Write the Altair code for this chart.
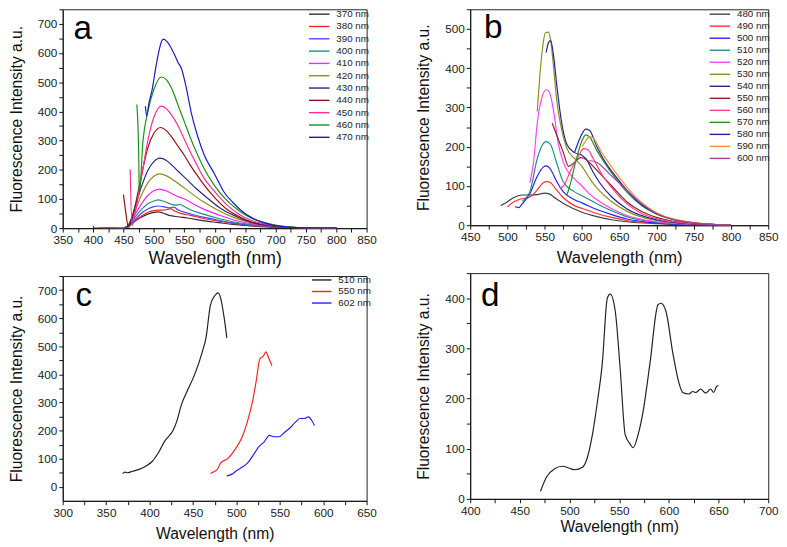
import altair as alt
import pandas as pd

FONT = "Liberation Sans"

# ---------------- Panel a : excitation 370-470 nm ----------------
A_NAMES = ["370 nm", "380 nm", "390 nm", "400 nm", "410 nm", "420 nm",
           "430 nm", "440 nm", "450 nm", "460 nm", "470 nm"]
A_COLORS = ["#303030", "#FF2020", "#4848FF", "#208C8C", "#FF20FF", "#8C8C20",
            "#262680", "#8B1010", "#FF3090", "#189018", "#1818C8"]
A370 = [(400, 8), (402, 0), (445, 0), (452, 2), (460, 10), (470, 25), (480, 38), (490, 48), (500, 54),
        (507, 56), (515, 52), (525, 44), (540, 39), (555, 35), (580, 26), (607, 19), (630, 13), (660, 8),
        (700, 3), (750, 1), (800, 0)]
A380 = [(410, 3), (412, 0), (448, 0), (455, 3), (462, 12), (470, 28), (480, 42), (490, 54), (500, 60),
        (508, 62), (515, 62), (522, 64), (527, 67), (533, 60), (545, 50), (560, 44), (580, 34), (607, 24),
        (630, 16), (660, 9), (700, 4), (750, 1), (800, 0)]
A390 = [(420, 2), (422, 0), (448, 0), (455, 3), (462, 14), (470, 32), (480, 52), (490, 66), (500, 74),
        (506, 76), (515, 74), (525, 70), (533, 72), (540, 62), (550, 55), (565, 46), (585, 36), (607, 27),
        (630, 18), (660, 10), (700, 4), (750, 1), (800, 0)]
A400 = [(430, 1), (448, 0), (455, 3), (462, 16), (470, 40), (480, 65), (490, 84), (500, 93), (507, 97),
        (515, 93), (525, 85), (535, 79), (543, 81), (550, 74), (560, 63), (580, 49), (607, 33), (630, 22),
        (660, 12), (700, 5), (750, 1), (800, 0)]
A410 = [(440, 1), (450, 1), (455, 4), (462, 20), (470, 50), (480, 85), (490, 112), (500, 128), (509, 134),
        (520, 128), (530, 118), (540, 108), (550, 100), (560, 89), (580, 67), (607, 45), (630, 29),
        (660, 15), (700, 6), (750, 1), (800, 0)]
A420 = [(450, 1), (455, 4), (462, 25), (470, 65), (480, 115), (490, 155), (500, 178), (510, 186),
        (520, 180), (530, 168), (540, 153), (550, 138), (560, 122), (580, 92), (607, 60), (630, 38),
        (660, 19), (700, 7), (750, 1), (800, 0)]
A430 = [(452, 2), (456, 5), (462, 28), (470, 80), (480, 145), (490, 198), (500, 228), (510, 240),
        (520, 233), (530, 215), (540, 195), (554, 167), (570, 135), (590, 100), (607, 72), (630, 45),
        (660, 20), (700, 7), (750, 1), (800, 0)]
A440 = [(450, 115), (454, 50), (458, 3), (465, 40), (470, 85), (480, 185), (490, 275), (500, 325),
        (511, 345), (520, 335), (530, 310), (540, 280), (550, 250), (560, 215), (570, 185), (580, 155),
        (600, 105), (620, 65), (640, 40), (660, 22), (690, 9), (720, 3), (760, 0), (800, 0)]
A450 = [(461, 202), (464, 9), (470, 60), (480, 180), (490, 300), (500, 380), (512, 418), (520, 410),
        (530, 385), (540, 350), (550, 305), (560, 260), (570, 220), (580, 180), (600, 125), (620, 80),
        (640, 48), (660, 27), (690, 11), (720, 4), (760, 0), (800, 0)]
A460 = [(472, 424), (475, 250), (476, 114), (482, 298), (490, 400), (500, 475), (512, 518), (520, 510),
        (530, 475), (540, 420), (550, 365), (560, 310), (570, 260), (580, 215), (600, 145), (620, 95),
        (640, 60), (660, 35), (690, 15), (720, 5), (760, 1), (800, 0)]
A470 = [(486, 418), (488, 385), (492, 430), (497, 473), (503, 549), (508, 604), (513, 642), (516, 648),
        (522, 638), (529, 615), (535, 590), (540, 566), (545, 549), (553, 484), (561, 400), (572, 315),
        (583, 250), (600, 185), (615, 125), (630, 88), (645, 58), (660, 37), (680, 19), (700, 9),
        (720, 4), (750, 1), (800, 0)]
A_SERIES = [A370, A380, A390, A400, A410, A420, A430, A440, A450, A460, A470]

# ---------------- Panel b : excitation 480-600 nm ----------------
B_NAMES = ["480 nm", "490 nm", "500 nm", "510 nm", "520 nm", "530 nm", "540 nm",
           "550 nm", "560 nm", "570 nm", "580 nm", "590 nm", "600 nm"]
B_COLORS = ["#404040", "#FF3030", "#2020FF", "#208C8C", "#FF40FF", "#8C8C20", "#202090",
            "#8B2020", "#FF4090", "#209020", "#2020A8", "#FF9030", "#A040A0"]
B480 = [(491, 50), (500, 60), (510, 72), (520, 77), (530, 77), (540, 78), (550, 82), (556, 80), (565, 68),
        (580, 50), (600, 33), (620, 22), (640, 14), (660, 9), (700, 4), (750, 1), (800, 0)]
B490 = [(500, 46), (505, 55), (515, 65), (530, 72), (540, 90), (548, 108), (553, 111), (558, 108), (565, 92),
        (575, 70), (590, 50), (600, 43), (620, 30), (640, 20), (660, 12), (700, 5), (750, 1), (800, 0)]
B500 = [(510, 47), (515, 45), (520, 55), (530, 80), (540, 125), (548, 148), (552, 151), (558, 142),
        (565, 115), (575, 85), (590, 65), (600, 57), (620, 40), (640, 27), (660, 16), (700, 6), (750, 1),
        (800, 0)]
B510 = [(520, 62), (530, 85), (540, 170), (548, 208), (552, 213), (558, 205), (565, 165), (575, 110),
        (590, 85), (600, 75), (610, 65), (620, 55), (640, 37), (660, 22), (700, 8), (750, 2), (800, 0)]
B520 = [(530, 108), (535, 160), (540, 260), (547, 330), (552, 345), (556, 340), (562, 290), (568, 210),
        (575, 160), (590, 118), (600, 100), (610, 80), (620, 65), (640, 42), (660, 25), (700, 9), (750, 2),
        (800, 0)]
B530 = [(540, 290), (543, 370), (547, 450), (551, 490), (555, 492), (558, 470), (562, 400), (566, 320),
        (572, 250), (580, 195), (590, 170), (600, 150), (610, 120), (620, 95), (640, 60), (660, 36),
        (700, 12), (750, 3), (800, 0)]
B540 = [(552, 440), (555, 465), (558, 470), (562, 430), (566, 360), (572, 270), (580, 205), (590, 185),
        (600, 178), (605, 170), (615, 135), (625, 105), (640, 72), (660, 42), (700, 14), (750, 3), (800, 0)]
B550 = [(560, 260), (565, 235), (575, 185), (582, 150), (590, 160), (598, 172), (605, 168), (615, 150),
        (625, 130), (640, 100), (660, 60), (680, 35), (700, 20), (750, 4), (800, 0)]
B560 = [(570, 95), (575, 100), (585, 140), (595, 175), (602, 195), (608, 192), (615, 170), (625, 135),
        (640, 95), (660, 55), (680, 30), (700, 17), (750, 4), (800, 0)]
B570 = [(580, 78), (585, 110), (592, 165), (600, 215), (605, 230), (610, 225), (620, 190), (630, 160),
        (645, 120), (660, 85), (680, 50), (700, 28), (750, 6), (800, 0)]
B580 = [(590, 185), (598, 225), (605, 245), (610, 242), (620, 200), (630, 165), (645, 125), (660, 90),
        (680, 52), (700, 30), (750, 6), (800, 0)]
B590 = [(600, 200), (605, 215), (610, 225), (615, 222), (625, 190), (640, 148), (660, 98), (680, 58),
        (700, 32), (750, 7), (800, 0)]
B600 = [(610, 165), (620, 160), (640, 125), (660, 90), (680, 55), (700, 30), (750, 6), (800, 0)]
B_SERIES = [B480, B490, B500, B510, B520, B530, B540, B550, B560, B570, B580, B590, B600]

# ---------------- Panel c : excitation spectra ----------------
C_NAMES = ["510 nm", "550 nm", "602 nm"]
C_COLORS = ["#202020", "#FF2020", "#2020FF"]
C510 = [(369, 47), (372, 52), (375, 50), (380, 55), (388, 62), (396, 74), (403, 90), (410, 120), (418, 165),
        (427, 200), (431, 230), (437, 295), (444, 345), (452, 400), (461, 483), (465, 530), (470, 645),
        (475, 680), (479, 690), (482, 670), (486, 600), (489, 530)]
C550 = [(470, 47), (475, 55), (478, 62), (482, 85), (490, 100), (500, 140), (507, 180), (512, 225),
        (519, 310), (523, 380), (527, 455), (531, 465), (534, 480), (537, 460), (541, 431)]
C602 = [(489, 39), (495, 45), (500, 57), (507, 70), (513, 85), (520, 115), (526, 143), (532, 160),
        (538, 183), (543, 178), (549, 178), (556, 195), (562, 210), (568, 230), (573, 243), (578, 243),
        (583, 249), (587, 235), (590, 218)]
C_SERIES = [C510, C550, C602]

# ---------------- Panel d : single spectrum ----------------
D_NAMES = ["d"]
D_COLORS = ["#202020"]
D1 = [(470.7, 15), (477, 44), (485, 60), (493, 65), (500, 61), (505, 58), (513, 63), (518, 83), (523, 128),
      (528, 193), (533, 271), (538, 400), (541, 408), (546, 374), (551, 258), (556, 128), (561, 109),
      (564, 102), (569, 128), (574, 174), (581, 271), (589, 387), (592, 390), (597, 374), (604, 290),
      (610, 232), (614, 212), (620, 209), (624, 214), (627, 212), (632, 219), (637, 211), (642, 219),
      (645, 212), (648, 224), (650, 226)]
D_SERIES = [D1]


def frame(names, series):
    rows = []
    for name, pts in zip(names, series):
        for wl, val in pts:
            rows.append({"series": name, "wl": wl, "val": val})
    return pd.DataFrame(rows)


def steps(lo, hi, step):
    out = []
    v = lo
    while v <= hi + 1e-9:
        out.append(v)
        v += step
    return out


def panel(names, colors, series, xdom, ydom, xticks, yticks, w, h, letter, letter_xy,
          legend_xy, legend_row, show_legend, xt_size, yt_size, lab_size, yt_pad, xt_pad, line_len):
    df = frame(names, series)
    xaxis = alt.Axis(values=xticks, labelExpr="datum.value % 50 == 0 ? datum.label : ''",
                     title="Wavelength (nm)", labelFontSize=lab_size, titleFontSize=xt_size,
                     titlePadding=xt_pad, tickSize=4, labelPadding=3, labelFlush=False,
                     labelOverlap=False, grid=False)
    yaxis = alt.Axis(values=yticks, labelExpr="datum.value % 100 == 0 ? datum.label : ''",
                     title="Fluorescence Intensity a.u.", labelFontSize=lab_size, titleFontSize=yt_size,
                     titlePadding=yt_pad, tickSize=4, labelPadding=2, labelFlush=False,
                     labelOverlap=False, grid=False)
    if show_legend:
        legend = alt.Legend(title=None, orient="none", legendX=legend_xy[0], legendY=legend_xy[1],
                            symbolType="M-%d,0L2,0" % line_len, symbolSize=4, symbolStrokeWidth=1.4,
                            labelOffset=4, labelFontSize=10, labelFont=FONT, labelColor="#222",
                            rowPadding=legend_row, padding=0, labelLimit=200)
    else:
        legend = None
    color = alt.Color("series:N", scale=alt.Scale(domain=names, range=colors), legend=legend)
    lines = alt.Chart(df).mark_line(strokeWidth=1.2, interpolate="monotone", clip=True).encode(
        x=alt.X("wl:Q", scale=alt.Scale(domain=xdom, nice=False, zero=False), axis=xaxis),
        y=alt.Y("val:Q", scale=alt.Scale(domain=ydom, nice=False, zero=False), axis=yaxis),
        color=color,
    )
    lab = alt.Chart(pd.DataFrame({"t": [letter]})).mark_text(
        fontSize=34, font=FONT, align="left", baseline="alphabetic", color="black"
    ).encode(text="t:N", x=alt.value(letter_xy[0]), y=alt.value(letter_xy[1]))
    return alt.layer(lines, lab).properties(width=w, height=h)


pa = panel(A_NAMES, A_COLORS, A_SERIES, [350, 850], [0, 750], steps(350, 850, 25), steps(0, 750, 50),
           311, 224, "a", (11, 30), (266, 0), 2.6, True, 18, 16, 12, 13, 4, 19)
pb = panel(B_NAMES, B_COLORS, B_SERIES, [450, 850], [0, 550], steps(450, 850, 25), steps(0, 550, 50),
           305, 221, "b", (14, 29), (259, 0), 2.3, True, 17, 16, 12, 14, 7, 19)
pc = panel(C_NAMES, C_COLORS, C_SERIES, [300, 650], [-50, 750], steps(300, 650, 25), steps(0, 750, 50),
           311, 230, "c", (13, 31), (268, -1), 1.8, True, 16, 16, 12, 13, 8, 18)
pd_ = panel(D_NAMES, D_COLORS, D_SERIES, [400, 700], [0, 450], steps(400, 700, 25), steps(0, 450, 50),
            305, 231, "d", (11, 34), (0, 0), 1, False, 16, 16, 12, 14, 2, 18)

left = alt.vconcat(pa, pc, spacing=1).resolve_scale(color="independent", x="independent", y="independent")
right = alt.vconcat(pb, pd_, spacing=0).resolve_scale(color="independent", x="independent", y="independent")

chart = alt.hconcat(left, right, spacing=38).resolve_scale(
    color="independent", x="independent", y="independent"
).resolve_legend(color="independent").properties(
    padding={"left": 0, "top": -12, "right": 0, "bottom": 0},
    background="white",
).configure_axis(
    labelFont=FONT, titleFont=FONT, titleFontWeight="normal", domainColor="#111", tickColor="#111",
    labelColor="#222", titleColor="#111", domainWidth=1, tickWidth=1,
).configure_view(stroke="#222", strokeWidth=1)

chart.save("out.html", embed_options={"renderer": "svg", "actions": False})
